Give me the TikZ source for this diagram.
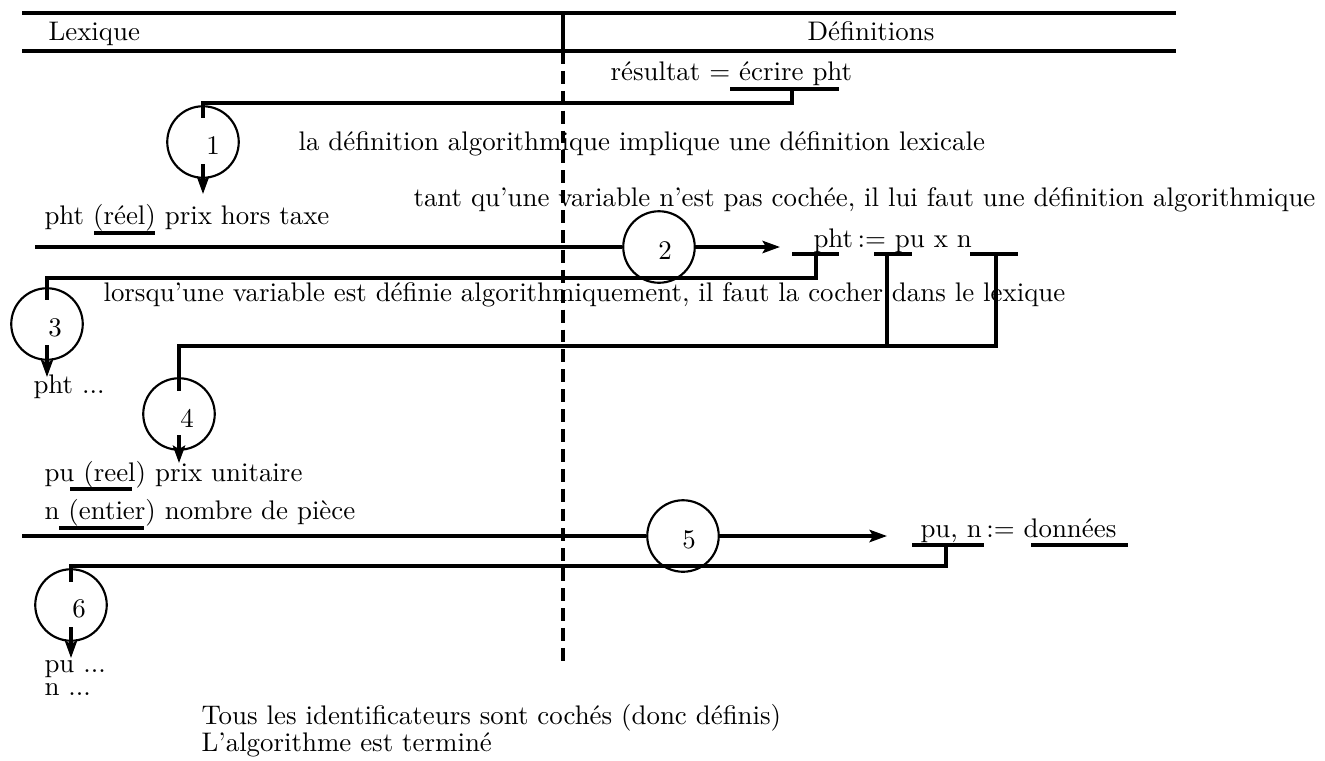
\documentclass[tikz,border=0pt]{standalone}
\usetikzlibrary{arrows.meta,calc}
\begin{document}
\begin{tikzpicture}[x=0.372pt,y=-0.372pt,
  thickline/.style={line width=1.2pt},
  circ/.style={draw,line width=0.8pt,circle,minimum size=26.6pt,inner sep=0pt},
  num/.style={inner sep=0pt},
  txt/.style={anchor=base west,inner sep=0pt},
  arr/.style={line width=1.2pt,-{Stealth[length=6.5pt,width=4.6pt,inset=1.3pt]}},
  divider/.style={line width=1.2pt,dash pattern=on 4.8pt off 2.6pt}
]
\useasboundingbox (0,0) rectangle (1325,760);
% header
\coordinate (tl) at (22,13); \coordinate (tr) at (1176,13);
\coordinate (hl) at (22,51); \coordinate (hr) at (1176,51);
\coordinate (dtop) at (563,13); \coordinate (dmid) at (563,51); \coordinate (dbot) at (563,662);
\draw[thickline] (tl) -- (tr);
\draw[thickline] (hl) -- (hr);
\draw[thickline] (dtop) -- (dmid);
\draw[divider] (dmid) -- (dbot);
\node[txt] (lex) at (48,40) {Lexique};
\node[anchor=base,inner sep=0pt] (def) at (871,40) {Définitions};

% texts
\node[txt] (res) at (610,80) {résultat = écrire pht};
\node[txt] (t1) at (298,150) {la définition algorithmique implique une définition lexicale};
\node[txt] (t2) at (413,206) {tant qu'une variable n'est pas cochée, il lui faut une définition algorithmique};
\node[txt] (pht) at (44,224) {pht (réel) prix hors taxe};
\node[txt] (eq1) at (813,247) {pht\,:=\ pu x n};
\node[txt] (t3) at (103,301) {lorsqu'une variable est définie algorithmiquement, il faut la cocher dans le lexique};
\node[txt] (phtd) at (33,393) {pht ...};
\node[txt] (pu) at (44,481) {pu (reel) prix unitaire};
\node[txt] (nn) at (44,519) {n (entier) nombre de pièce};
\node[txt] (eq2) at (920,537) {pu, n\,:=\ données};
\node[txt] (pud) at (44,672) {pu ...};
\node[txt] (nd) at (44,695) {n ...};
\node[txt] (fin1) at (201,724) {Tous les identificateurs sont cochés (donc définis)};
\node[txt] (fin2) at (201,751) {L'algorithme est terminé};

% circles
\node[circ] (c1) at (203,142) {};
\node[circ] (c2) at (659,247) {};
\node[circ] (c3) at (47,324) {};
\node[circ] (c4) at (179,414) {};
\node[circ] (c5) at (683,536) {};
\node[circ] (c6) at (71,605) {};
\node[num] (n1) at (213,146) {1};
\node[num] (n2) at (665,251) {2};
\node[num] (n3) at (55,328) {3};
\node[num] (n4) at (187,418) {4};
\node[num] (n5) at (689,540) {5};
\node[num] (n6) at (79,609) {6};

% underlines
\draw[thickline] (730,89) -- (839,89);
\draw[thickline] (94,233) -- (155,233);
\draw[thickline] (792,254) -- (839,254);
\draw[thickline] (874,254) -- (912,254);
\draw[thickline] (970,254) -- (1018,254);
\draw[thickline] (70,489) -- (132,489);
\draw[thickline] (59,528) -- (144,528);
\draw[thickline] (912,545) -- (984,545);
\draw[thickline] (1031,545) -- (1128,545);

% connector 1
\coordinate (b1a) at (792,89); \coordinate (b1b) at (792,103);
\coordinate (b1c) at (203,103); \coordinate (b1d) at (203,118);
\coordinate (a1s) at (203,164); \coordinate (a1e) at (203,194);
\draw[thickline] (b1a) -- (b1b) -- (b1c) -- (b1d);
\draw[arr] (a1s) -- (a1e);

% connector 2
\coordinate (l2s) at (35,247); \coordinate (l2e) at (780,247);
\draw[thickline] (l2s) -- (c2);
\draw[arr] (c2) -- (l2e);

% connector 3
\coordinate (b3a) at (816,254); \coordinate (b3b) at (816,278);
\coordinate (b3c) at (47,278); \coordinate (b3d) at (47,300);
\coordinate (a3s) at (47,345); \coordinate (a3e) at (47,377);
\draw[thickline] (b3a) -- (b3b) -- (b3c) -- (b3d);
\draw[arr] (a3s) -- (a3e);

% connector 4
\coordinate (v4a) at (887,254); \coordinate (v4b) at (887,346);
\coordinate (v4c) at (996,254); \coordinate (v4d) at (996,346);
\coordinate (b4c) at (179,346); \coordinate (b4d) at (179,391);
\coordinate (a4s) at (179,435); \coordinate (a4e) at (179,463);
\draw[thickline] (v4a) -- (v4b);
\draw[thickline] (v4c) -- (v4d) -- (b4c) -- (b4d);
\draw[arr] (a4s) -- (a4e);

% connector 5
\coordinate (l5s) at (22,536); \coordinate (l5e) at (887,536);
\draw[thickline] (l5s) -- (c5);
\draw[arr] (c5) -- (l5e);

% connector 6
\coordinate (b6a) at (946,545); \coordinate (b6b) at (946,566);
\coordinate (b6c) at (71,566); \coordinate (b6d) at (71,582);
\coordinate (a6s) at (71,627); \coordinate (a6e) at (71,658);
\draw[thickline] (b6a) -- (b6b) -- (b6c) -- (b6d);
\draw[arr] (a6s) -- (a6e);
\end{tikzpicture}
\end{document}
